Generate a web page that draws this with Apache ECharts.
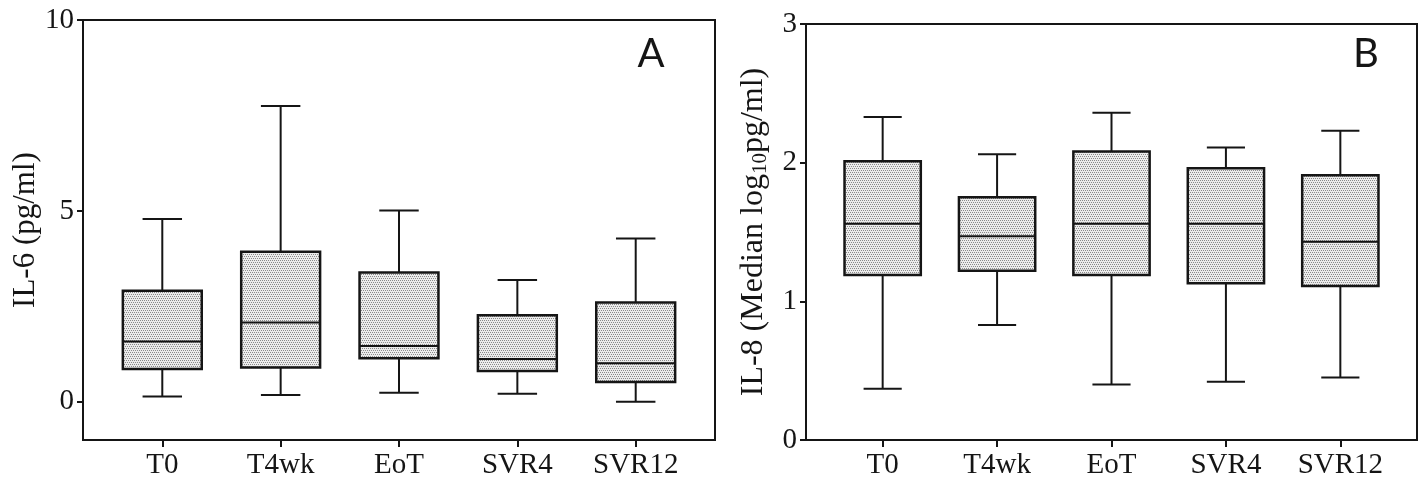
<!DOCTYPE html>
<html>
<head>
<meta charset="utf-8">
<script src="https://cdn.jsdelivr.net/npm/echarts@6/dist/echarts.min.js"></script>
<style>
html,body{margin:0;padding:0;background:#fff;}
#chart{width:1421px;height:480px;}
</style>
</head>
<body>
<div id="chart"></div>
<script>
// ---- data ----
const categories = ['T0', 'T4wk', 'EoT', 'SVR4', 'SVR12'];

// Panel A: IL-6 (pg/ml)
const il6Min    = [0.14, 0.18, 0.24, 0.21, 0.00];
const il6Q1     = [0.86, 0.90, 1.14, 0.81, 0.52];
const il6Median = [1.58, 2.08, 1.46, 1.12, 1.01];
const il6Q3     = [2.91, 3.93, 3.39, 2.27, 2.60];
const il6Max    = [4.79, 7.75, 5.01, 3.19, 4.28];
const il6Ticks  = [0, 5, 10];

// Panel B: IL-8 (Median log10 pg/ml)
const il8Min    = [0.37, 0.83, 0.40, 0.42, 0.45];
const il8Q1     = [1.19, 1.22, 1.19, 1.13, 1.11];
const il8Median = [1.56, 1.47, 1.56, 1.56, 1.43];
const il8Q3     = [2.01, 1.75, 2.08, 1.96, 1.91];
const il8Max    = [2.33, 2.06, 2.36, 2.11, 2.23];
const il8Ticks  = [0, 1, 2, 3];

// ---- stipple pattern ----
const pc = document.createElement('canvas');
pc.width = 4; pc.height = 4;
const pctx = pc.getContext('2d');
pctx.fillStyle = '#ececec';
pctx.fillRect(0, 0, 4, 4);
pctx.fillStyle = '#8a8a8a';
[[0,0],[2,0],[1,2],[3,2]].forEach(p => pctx.fillRect(p[0], p[1], 1, 1));
const stipple = { image: pc, repeat: 'repeat' };

function buildRows(mn, q1, md, q3, mx) {
  return categories.map((c, i) => [i, mn[i], q1[i], md[i], q3[i], mx[i]]);
}

const INK = '#151515';
function renderBox(params, api) {
  const i = api.value(0);
  const lo = api.coord([i, api.value(1)]);
  const q1 = api.coord([i, api.value(2)]);
  const md = api.coord([i, api.value(3)]);
  const q3 = api.coord([i, api.value(4)]);
  const hi = api.coord([i, api.value(5)]);
  const unit = api.size([1, 0])[0];
  const bw = unit * 2 / 3;
  const cw = unit / 3;
  const x = q1[0];
  const ls = { stroke: INK, lineWidth: 2 };
  return {
    type: 'group',
    children: [
      { type: 'line', shape: { x1: x, y1: q3[1], x2: x, y2: hi[1] }, style: ls },
      { type: 'line', shape: { x1: x - cw / 2, y1: hi[1], x2: x + cw / 2, y2: hi[1] }, style: ls },
      { type: 'line', shape: { x1: x, y1: q1[1], x2: x, y2: lo[1] }, style: ls },
      { type: 'line', shape: { x1: x - cw / 2, y1: lo[1], x2: x + cw / 2, y2: lo[1] }, style: ls },
      { type: 'rect', shape: { x: x - bw / 2, y: q3[1], width: bw, height: q1[1] - q3[1] },
        style: { fill: stipple, stroke: INK, lineWidth: 2.5 } },
      { type: 'line', shape: { x1: x - bw / 2, y1: md[1], x2: x + bw / 2, y2: md[1] }, style: ls }
    ]
  };
}

const SERIF = 'Liberation Serif';
const tickFont = { fontFamily: SERIF, fontSize: 29, color: INK };

function xAxisFor(gridIndex) {
  return {
    type: 'value', gridIndex: gridIndex, min: -0.67, max: 4.67,
    axisLine: { show: true, onZero: false, lineStyle: { color: INK, width: 2 } },
    axisTick: { show: true, inside: false, length: 7, lineStyle: { color: INK, width: 2 }, customValues: [0, 1, 2, 3, 4] },
    axisLabel: Object.assign({ margin: 11, customValues: [0, 1, 2, 3, 4], formatter: v => categories[Math.round(v)] }, tickFont),
    splitLine: { show: false }
  };
}

const chart = echarts.init(document.getElementById('chart'), null, { renderer: 'canvas' });
chart.setOption({
  backgroundColor: '#ffffff',
  animation: false,
  textStyle: { fontFamily: SERIF },
  grid: [
    { left: 83, top: 20, width: 632, height: 420, show: true, borderColor: INK, borderWidth: 2, backgroundColor: 'transparent' },
    { left: 806, top: 24, width: 611, height: 418, show: true, borderColor: INK, borderWidth: 2, backgroundColor: 'transparent' }
  ],
  xAxis: [xAxisFor(0), xAxisFor(1)],
  yAxis: [
    {
      type: 'value', gridIndex: 0, min: -1, max: 10,
      name: 'IL-6 (pg/ml)', nameLocation: 'middle', nameRotate: 90, nameGap: 41,
      nameTextStyle: { fontFamily: SERIF, fontSize: 31, color: INK },
      axisLine: { show: true, onZero: false, lineStyle: { color: INK, width: 2 } },
      axisTick: { show: true, inside: false, length: 6, lineStyle: { color: INK, width: 2 }, customValues: il6Ticks },
      axisLabel: Object.assign({ margin: 9, customValues: il6Ticks }, tickFont),
      splitLine: { show: false }
    },
    {
      type: 'value', gridIndex: 1, min: 0, max: 3, interval: 1,
      name: 'IL-8 (Median log{sub|10}pg/ml)', nameLocation: 'middle', nameRotate: 90, nameGap: 35,
      nameTextStyle: {
        fontFamily: SERIF, fontSize: 32, color: INK,
        rich: { sub: { fontFamily: SERIF, fontSize: 21, color: INK, padding: [14, 0, 0, 0] } }
      },
      axisLine: { show: true, onZero: false, lineStyle: { color: INK, width: 2 } },
      axisTick: { show: true, inside: false, length: 6, lineStyle: { color: INK, width: 2 }, customValues: il8Ticks },
      axisLabel: Object.assign({ margin: 9, customValues: il8Ticks }, tickFont),
      splitLine: { show: false }
    }
  ],
  graphic: [
    { type: 'text', x: 651, y: 54, style: { text: 'A', fontFamily: 'Lato', fontSize: 40, fill: INK, align: 'center', verticalAlign: 'middle' } },
    { type: 'text', x: 1366, y: 54, style: { text: 'B', fontFamily: 'Lato', fontSize: 40, fill: INK, align: 'center', verticalAlign: 'middle' } }
  ],
  series: [
    {
      type: 'custom', xAxisIndex: 0, yAxisIndex: 0,
      renderItem: renderBox,
      encode: { x: 0, y: [1, 2, 3, 4, 5] },
      data: buildRows(il6Min, il6Q1, il6Median, il6Q3, il6Max)
    },
    {
      type: 'custom', xAxisIndex: 1, yAxisIndex: 1,
      renderItem: renderBox,
      encode: { x: 0, y: [1, 2, 3, 4, 5] },
      data: buildRows(il8Min, il8Q1, il8Median, il8Q3, il8Max)
    }
  ]
});
</script>
</body>
</html>
